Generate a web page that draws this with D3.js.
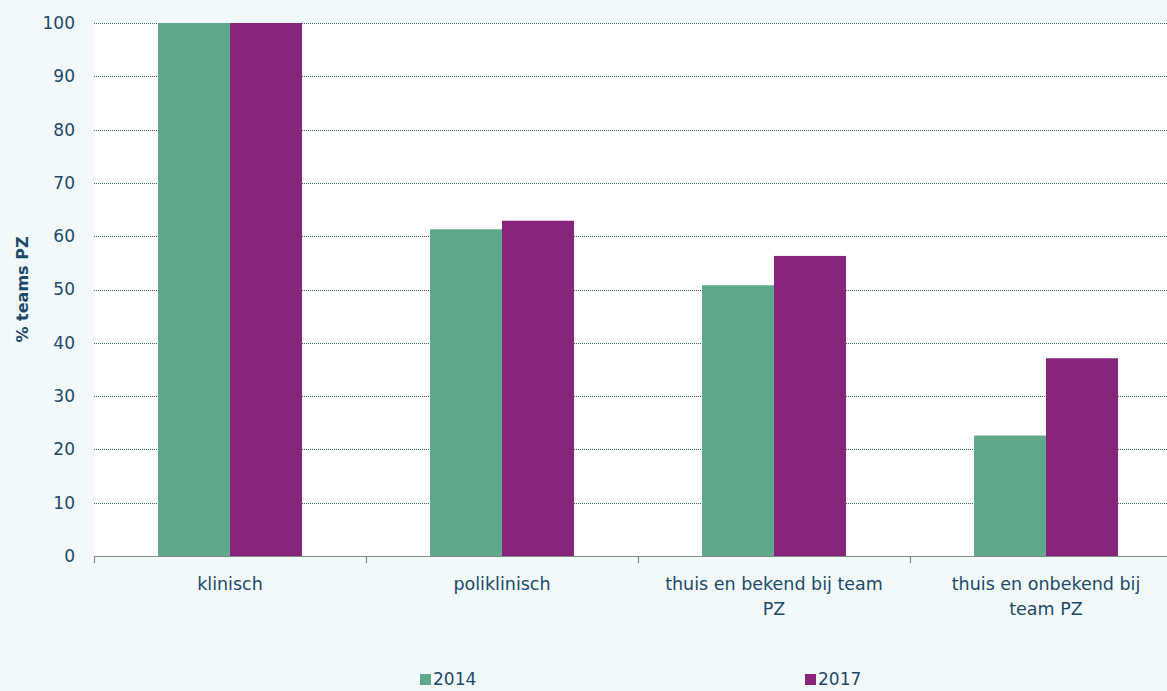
<!DOCTYPE html>
<html>
<head>
<meta charset="utf-8">
<script src="https://cdn.jsdelivr.net/npm/d3@7"></script>
<style>
  body { margin: 0; background: #f2f9fb; }
  svg { display: block; }
</style>
</head>
<body>
<div id="chart"></div>
<script>
// chart data
const categories = ["klinisch", "poliklinisch", "thuis en bekend bij team PZ", "thuis en onbekend bij team PZ"];
const labelLines = [["klinisch"], ["poliklinisch"], ["thuis en bekend bij team", "PZ"], ["thuis en onbekend bij", "team PZ"]];
const seriesNames = ["2014", "2017"];
const values2014 = [100, 61.3, 50.8, 22.6];
const values2017 = [100, 62.9, 56.3, 37.1];
const yTicks = [0, 10, 20, 30, 40, 50, 60, 70, 80, 90, 100];

const colors = ["#5fa98a", "#86257a"];
const textColor = "#1d4a68";
const font = "'DejaVu Sans', sans-serif";

const W = 1167, H = 691;
const margin = { top: 23, left: 94, bottom: 135 };
const plotRight = 1182; // plot area runs past the image edge

const svg = d3.select("#chart").append("svg")
    .attr("width", W)
    .attr("height", H);

svg.append("rect").attr("width", W).attr("height", H).attr("fill", "#f2f9fb");

const y = d3.scaleLinear().domain([0, 100]).range([H - margin.bottom, margin.top]);
const x = d3.scaleBand().domain(categories).range([margin.left, plotRight]).paddingInner(0).paddingOuter(0);
const xs = d3.scaleBand().domain(seriesNames).range([0, x.bandwidth()]).paddingInner(0).paddingOuter(0.89);

// plot background
svg.append("rect")
    .attr("x", margin.left).attr("y", y(100))
    .attr("width", plotRight - margin.left).attr("height", y(0) - y(100))
    .attr("fill", "#ffffff");

// gridlines (dotted)
svg.append("g")
    .selectAll("line")
    .data(yTicks.filter(d => d > 0))
    .join("line")
    .attr("x1", margin.left).attr("x2", plotRight)
    .attr("y1", d => Math.round(y(d)) + 0.5).attr("y2", d => Math.round(y(d)) + 0.5)
    .attr("stroke", "#1d4a68")
    .attr("stroke-opacity", 0.85)
    .attr("stroke-width", 1)
    .attr("stroke-dasharray", "1,1");

// bars
const data = categories.map((c, i) => ({ cat: c, vals: [values2014[i], values2017[i]] }));
const groups = svg.append("g").selectAll("g")
    .data(data)
    .join("g")
    .attr("transform", d => `translate(${x(d.cat)},0)`);

groups.selectAll("rect")
    .data(d => d.vals.map((v, j) => ({ key: seriesNames[j], v, j })))
    .join("rect")
    .attr("x", d => xs(d.key))
    .attr("y", d => y(d.v))
    .attr("width", xs.bandwidth())
    .attr("height", d => y(0) - y(d.v))
    .attr("fill", d => colors[d.j]);

// y axis labels
const yAxis = svg.append("g")
    .attr("transform", `translate(${margin.left},0)`)
    .call(d3.axisLeft(y).tickValues(yTicks).tickSize(0).tickPadding(19));
yAxis.select(".domain").remove();
yAxis.selectAll("text")
    .attr("font-family", font)
    .attr("font-size", 17)
    .attr("fill", textColor);

// x axis
const xAxis = svg.append("g")
    .attr("transform", `translate(0,${y(0)})`);
xAxis.append("line")
    .attr("x1", margin.left).attr("x2", plotRight)
    .attr("y1", 0.5).attr("y2", 0.5)
    .attr("stroke", "#888").attr("stroke-width", 1.2);
const tickXs = categories.map(c => x(c)).concat([plotRight]);
xAxis.selectAll("line.tick")
    .data(tickXs)
    .join("line")
    .attr("class", "tick")
    .attr("x1", d => Math.round(d) + 0.5).attr("x2", d => Math.round(d) + 0.5)
    .attr("y1", 0).attr("y2", 7)
    .attr("stroke", "#888").attr("stroke-width", 1.2);

const xLabels = xAxis.selectAll("text.cat")
    .data(categories)
    .join("text")
    .attr("class", "cat")
    .attr("x", d => x(d) + x.bandwidth() / 2)
    .attr("y", 34)
    .attr("text-anchor", "middle")
    .attr("font-family", font)
    .attr("font-size", 17.5)
    .attr("fill", textColor);
xLabels.selectAll("tspan")
    .data((d, i) => labelLines[i])
    .join("tspan")
    .attr("x", function () { return d3.select(this.parentNode).attr("x"); })
    .attr("dy", (d, i) => i === 0 ? 0 : 25)
    .text(d => d);

// y axis title
svg.append("text")
    .attr("transform", `translate(28,${(y(0) + y(100)) / 2}) rotate(-90)`)
    .attr("text-anchor", "middle")
    .attr("font-family", font)
    .attr("font-size", 16)
    .attr("font-weight", "bold")
    .attr("fill", textColor)
    .text("% teams PZ");

// legend
const legendX = [420, 805];
const legend = svg.append("g").selectAll("g")
    .data(seriesNames)
    .join("g")
    .attr("transform", (d, i) => `translate(${legendX[i]},674)`);
legend.append("rect")
    .attr("width", 11).attr("height", 11)
    .attr("fill", (d, i) => colors[i]);
legend.append("text")
    .attr("x", 13).attr("y", 11)
    .attr("font-family", font)
    .attr("font-size", 17)
    .attr("fill", textColor)
    .text(d => d);
</script>
</body>
</html>
